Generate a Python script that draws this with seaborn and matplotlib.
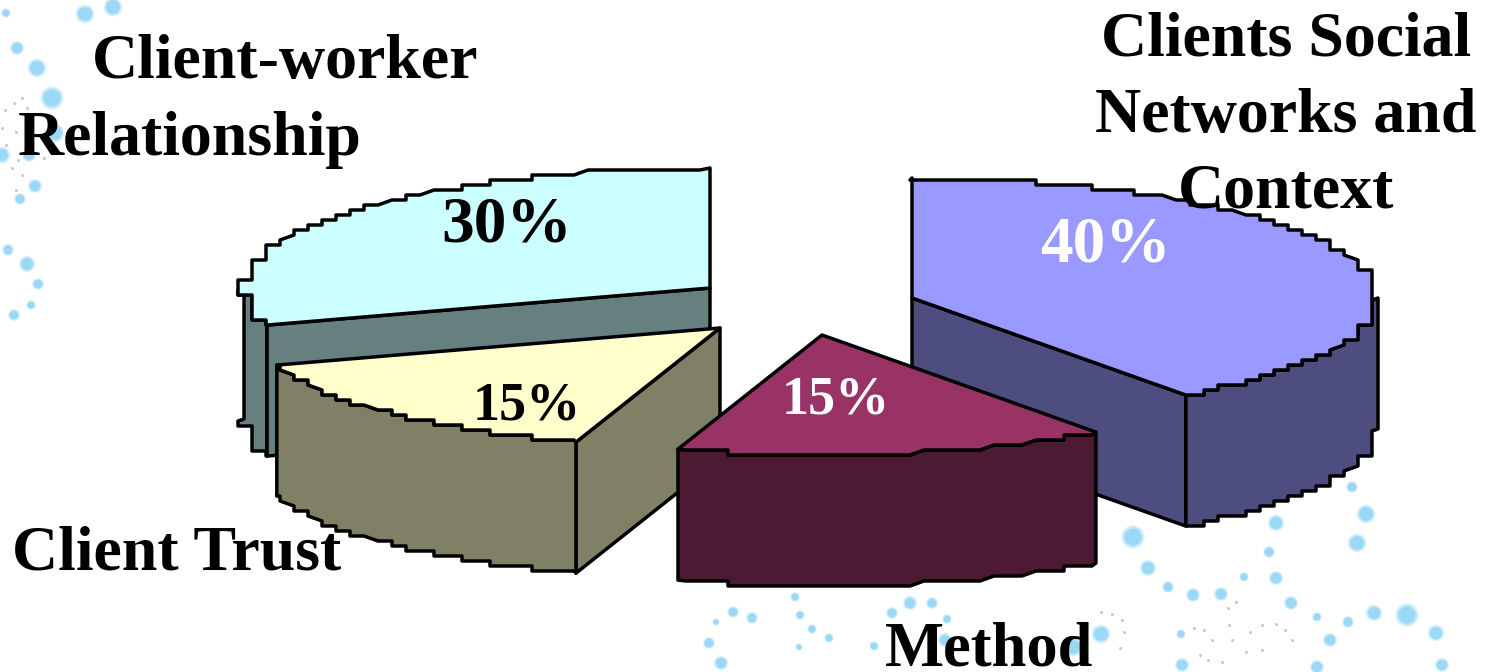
import numpy as np
import pandas as pd
import matplotlib
matplotlib.use('Agg')
import matplotlib.pyplot as plt
import seaborn as sns

# Pie slices, clockwise from 12 o'clock
categories = ['Clients Social Networks and Context', 'Method', 'Client Trust', 'Client-worker Relationship']
shares = [40, 15, 15, 30]
top_colors = ['#9999FF', '#993366', '#FFFFCC', '#CCFFFF']
side_colors = ['#4D4D80', '#4D1A33', '#808066', '#668080']

# Background bubbles (x, y, radius in pixels)
dot_x = [6, 85, 113, 17, 37, 52, 55, 2, 29, 35, 20, 8, 27, 38, 31, 14,
         1133, 1148, 1168, 1193, 1221, 1244, 1276, 1269, 1276, 1352, 1366, 1357,
         1291, 1317, 1348, 1374, 1407, 1436, 1330, 1317, 1442, 1101, 1181, 1182,
         795, 733, 752, 716, 709, 721, 800, 812, 829, 799, 910, 932, 892, 947, 874, 945, 1073]
dot_y = [13, 14, 7, 48, 68, 98, 133, 155, 155, 186, 199, 250, 264, 284, 305, 315,
         537, 568, 587, 595, 594, 577, 578, 552, 523, 487, 514, 543,
         603, 617, 622, 613, 615, 633, 640, 667, 665, 634, 634, 665,
         597, 612, 618, 622, 643, 663, 615, 629, 638, 647, 603, 603, 613, 619, 646, 640, 647]
dot_r = [4, 8, 8, 6, 8, 10, 8, 7, 6, 6, 5, 5, 7, 5, 4, 5,
         10, 7, 5, 6, 6, 4, 6, 5, 7, 5, 8, 8,
         6, 4, 5, 7, 10, 7, 6, 6, 6, 8, 4, 6,
         4, 5, 5, 3, 5, 6, 4, 4, 4, 3, 6, 5, 5, 4, 4, 6, 8]

speck_x = [5, 14, 22, 27, 2, 6, 16, 18, 22, 12, 16, 44, 42, 1101, 1112, 1122, 1124, 1120,
           1194, 1204, 1212, 1228, 1236, 1229, 1232, 1250, 1262, 1276, 1285, 1292, 1262,
           1246, 1200, 1208, 1222]
speck_y = [110, 103, 98, 108, 128, 145, 132, 160, 175, 168, 190, 158, 135, 612, 614, 620, 632, 648,
           628, 630, 640, 608, 602, 625, 640, 632, 625, 624, 630, 640, 650,
           652, 655, 660, 662]

slice_apex = [(912, 298), (822, 335), (720, 328), (710, 288)]
rx, ry, depth = 466, 120, 131

sns.set_theme(style='white')
plt.rcParams['font.family'] = ['Liberation Serif', 'DejaVu Serif']

fig, ax = plt.subplots(figsize=(14.88, 6.72), dpi=100)
ax.set_position([0, 0, 1, 1])

# layered so the bubbles look soft like the blurred backdrop
dots = pd.DataFrame({'x': dot_x, 'y': dot_y, 'r': dot_r})
for scale, alpha in [(1.2, 0.2), (1.05, 0.4), (0.85, 0.7)]:
    sns.scatterplot(data=dots, x='x', y='y', s=(dots['r'] * 2 * 0.72 * scale) ** 2, color='#8AD2F5',
                    alpha=alpha, linewidth=0, legend=False, ax=ax, zorder=1)
sns.scatterplot(x=speck_x, y=speck_y, s=5, color='#C3CBD0', linewidth=0, legend=False, ax=ax, zorder=1)


def rim(apex, start, end):
    n = max(int(abs(end - start) * 2), 2)
    t = np.radians(np.linspace(start, end, n))
    x = apex[0] + rx * np.cos(t)
    y = apex[1] - ry * np.sin(t)
    # snap the inner points to a coarse grid for the stepped edge of the original
    x[1:-1] = np.round(x[1:-1] / 14) * 14
    y[1:-1] = np.round(y[1:-1] / 5) * 5
    return x, y


def draw_poly(x, y, color, z):
    ax.fill(x, y, facecolor=color, edgecolor='black', linewidth=2.5, joinstyle='round', zorder=z)


def draw_cut(apex, angle, color, z):
    ex, ey = rim(apex, angle, angle)
    px = [apex[0], ex[0], ex[0], apex[0]]
    py = [apex[1], ey[0], ey[0] + depth, apex[1] + depth]
    draw_poly(px, py, color, z)


def draw_slice(i, start, sweep, z):
    apex = slice_apex[i]
    end = start - sweep
    if np.cos(np.radians(start)) < -1e-6:
        draw_cut(apex, start, side_colors[i], z)
    if np.cos(np.radians(end)) > 1e-6:
        draw_cut(apex, end, side_colors[i], z)
    a, b = min(start, 0), max(end, -180)
    if a > b:
        x, y = rim(apex, a, b)
        draw_poly(np.r_[x, x[::-1]], np.r_[y, y[::-1] + depth], side_colors[i], z)
    x, y = rim(apex, start, end)
    draw_poly(np.r_[apex[0], x], np.r_[apex[1], y], top_colors[i], z)


# starting angles follow from the shares
sweeps = [s / sum(shares) * 360 for s in shares]
starts = [90 - sum(sweeps[:i]) for i in range(len(shares))]
for z, i in enumerate([3, 0, 2, 1]):
    draw_slice(i, starts[i], sweeps[i], z + 2)

ax.set_xlim(0, 1488)
ax.set_ylim(672, 0)
ax.axis('off')


def label(x, y, s, size=46, color='black', ha='left'):
    ax.text(x, y, s, fontsize=size, fontweight='bold', color=color, ha=ha, va='baseline', zorder=10)


label(92, 78, 'Client-worker')
label(18, 155, 'Relationship')
label(1286, 55, 'Clients Social', ha='center')
label(1286, 132, 'Networks and', ha='center')
label(1286, 208, 'Context', ha='center')
label(12, 570, 'Client Trust')
label(885, 666, 'Method', size=45)

label(441, 242, f'{shares[3]}%', size=47)
label(1040, 262, f'{shares[0]}%', size=47, color='white')
label(473, 420, f'{shares[2]}%', size=39)
label(782, 413, f'{shares[1]}%', size=39, color='white')

fig.savefig('out.png', dpi=100)
